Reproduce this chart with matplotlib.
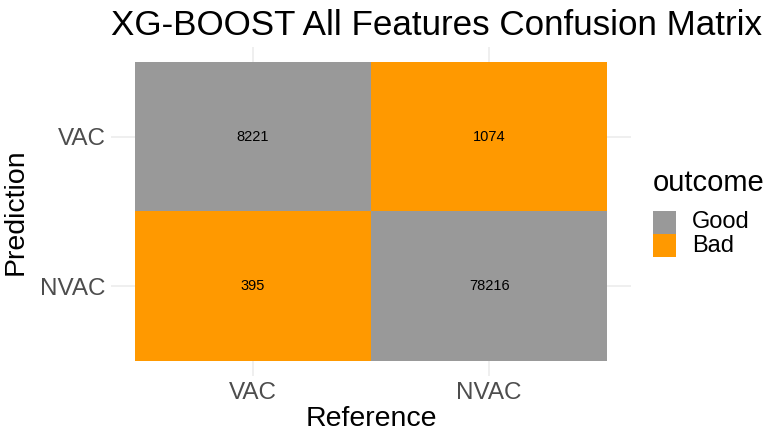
import matplotlib
matplotlib.use("Agg")
import matplotlib.pyplot as plt
import numpy as np
from matplotlib.colors import ListedColormap
from matplotlib.patches import Rectangle

plt.rcParams['font.family'] = ['Liberation Sans', 'DejaVu Sans']

# Data
reference = ["VAC", "NVAC"]          # x axis (columns)
prediction = ["NVAC", "VAC"]         # y axis bottom -> top
# counts[row][col], row follows `prediction`, col follows `reference`
counts = [[395, 78216],
          [8221, 1074]]
outcome = [["Bad", "Good"],
           ["Good", "Bad"]]
levels = ["Good", "Bad"]
level_colors = ["#999999", "#FF9900"]

fig = plt.figure(figsize=(7.81, 4.44), dpi=100)
ax = fig.add_axes([111/781, 1-376/444, (631-111)/781, (376-47)/444])

codes = np.array([[levels.index(o) for o in row] for row in outcome])
cmap = ListedColormap(level_colors)
xe = np.arange(len(reference) + 1) + 0.5
ye = np.arange(len(prediction) + 1) + 0.5
ax.pcolormesh(xe, ye, codes, cmap=cmap, vmin=-0.5, vmax=len(levels)-0.5, zorder=2)

for i in range(len(prediction)):
    for j in range(len(reference)):
        ax.text(j + 1, i + 1, str(counts[i][j]), ha='center', va='center',
                fontsize=10.5, color='black', zorder=3)

ax.set_xlim(0.4, len(reference) + 0.6)
ax.set_ylim(0.4, len(prediction) + 0.6)
ax.set_xticks(np.arange(1, len(reference) + 1))
ax.set_xticklabels(reference)
ax.set_yticks(np.arange(1, len(prediction) + 1))
ax.set_yticklabels(prediction)
ax.grid(True, color='#EBEBEB', linewidth=1.1, zorder=0)
ax.set_axisbelow(True)
for s in ax.spines.values():
    s.set_visible(False)
ax.tick_params(length=0, labelsize=17.5, labelcolor='#4D4D4D')
ax.tick_params(axis='x', pad=4)
ax.tick_params(axis='y', pad=4)

ax.set_xlabel("Reference", fontsize=20.5, labelpad=2)
ax.set_ylabel("Prediction", fontsize=20.5, labelpad=8)

fig.text(111/781, 1-35/444, "XG-BOOST All Features Confusion Matrix",
         fontsize=25.2, ha='left', va='baseline')

# Legend
fig.text(653/781, 1-183/444, "outcome", fontsize=21, ha='left', va='center')
key_w, key_h = 23/781, 23/444
for k, (lab, col) in enumerate(zip(levels, level_colors)):
    y0 = 1 - (234 + 23*k)/444
    fig.patches.append(Rectangle((653/781, y0), key_w, key_h, transform=fig.transFigure,
                                 facecolor=col, edgecolor='none'))
    fig.text(692/781, y0 + key_h/2, lab, fontsize=17, ha='left', va='center')

fig.savefig("out.png", dpi=100)
